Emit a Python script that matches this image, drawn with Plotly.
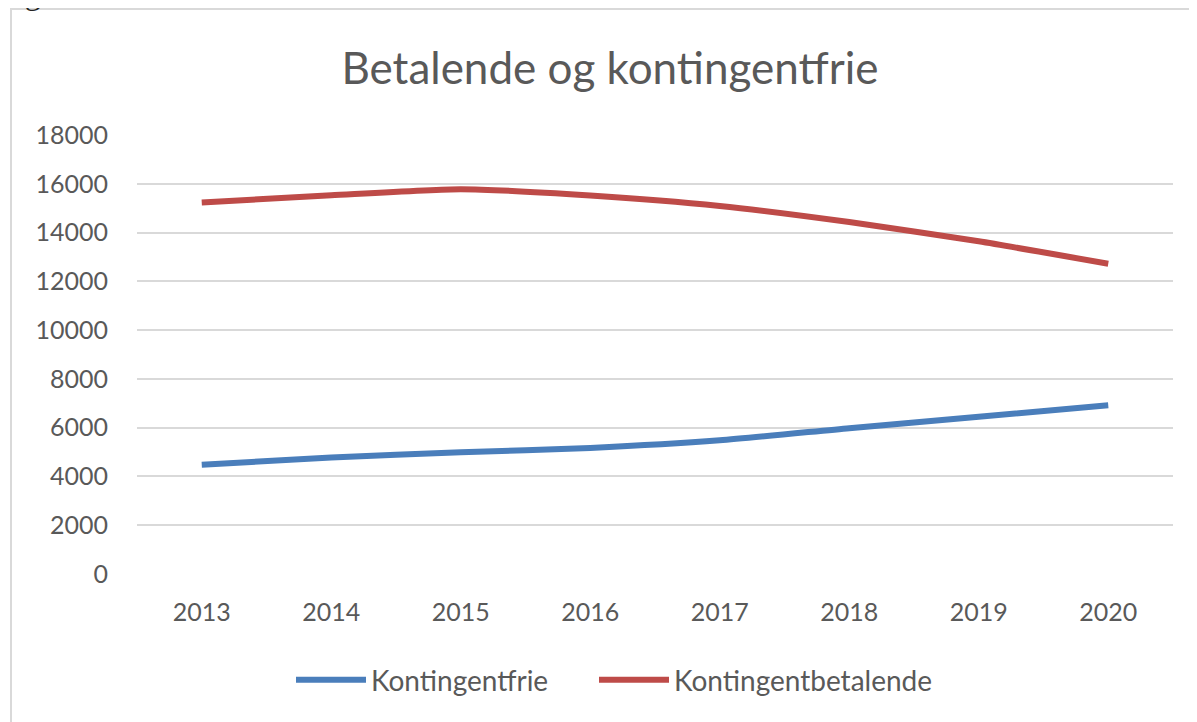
import plotly.graph_objects as go

years = ["2013", "2014", "2015", "2016", "2017", "2018", "2019", "2020"]
kontingentfrie = [4480, 4780, 4990, 5170, 5480, 5980, 6450, 6920]
kontingentbetalende = [15230, 15530, 15780, 15520, 15090, 14430, 13640, 12720]
y_ticks = [0, 2000, 4000, 6000, 8000, 10000, 12000, 14000, 16000, 18000]

OFF = 8  # page body margin offset
W, H = 1197 - OFF, 722 - OFF
L, R, T, B = 137 - OFF, 24, 135 - OFF, 148
pw, ph = W - L - R, H - T - B

def px(x):
    """reference screen x -> paper fraction"""
    return (x - OFF - L) / pw

def py(y):
    """reference screen y -> paper fraction"""
    return (H - B - (y - OFF)) / ph

FONT = "Lato"
GRAY = "#595959"

fig = go.Figure()
fig.add_trace(go.Scatter(x=years, y=kontingentfrie, name="Kontingentfrie", mode="lines",
                         legend="legend",
                         line=dict(color="#4A7EBB", width=6, shape="spline", smoothing=0.6)))
fig.add_trace(go.Scatter(x=years, y=kontingentbetalende, name="Kontingentbetalende", mode="lines",
                         legend="legend2",
                         line=dict(color="#BE4B48", width=6, shape="spline", smoothing=0.6)))

legend_common = dict(orientation="h", xanchor="left", yanchor="middle",
                     font=dict(family=FONT, size=28, color=GRAY), itemwidth=70,
                     bgcolor="rgba(0,0,0,0)")

fig.update_layout(
    width=W, height=H,
    margin=dict(l=L, r=R, t=T, b=B),
    paper_bgcolor="white", plot_bgcolor="white",
    title=dict(text="Betalende og kontingentfrie", x=(610 - OFF) / W, xanchor="center",
               y=1 - (69 - OFF) / H, yanchor="middle",
               font=dict(family=FONT, size=44, color=GRAY)),
    font=dict(family=FONT, color=GRAY),
    showlegend=True,
    legend=dict(x=px(291), y=py(680), **legend_common),
    legend2=dict(x=px(594), y=py(680), **legend_common),
    xaxis=dict(type="category", range=[-0.5, 7.5], showgrid=False, zeroline=False,
               showline=False, ticks="", tickfont=dict(size=25, color=GRAY),
               ticklabelstandoff=21, fixedrange=True),
    yaxis=dict(range=[0, 18000], tickvals=y_ticks, ticktext=[str(v) for v in y_ticks],
               showgrid=True, gridcolor="#D9D9D9", gridwidth=2, zeroline=False,
               showline=False, ticks="", tickfont=dict(size=25, color=GRAY),
               ticklabelstandoff=28, fixedrange=True),
)

# outer chart border (partially cropped like the reference)
fig.add_shape(type="rect", xref="paper", yref="paper",
              x0=px(11), x1=px(1197 + 10), y0=py(722 + 10), y1=py(9),
              line=dict(color="#D9D9D9", width=2), layer="below")

fig.add_annotation(text="Figur 5.", xref="paper", yref="paper", x=px(-4), y=py(13),
                   xanchor="left", yanchor="bottom", showarrow=False,
                   font=dict(family="Liberation Serif", size=32, color="#222222"))

fig.write_html("out.html")
